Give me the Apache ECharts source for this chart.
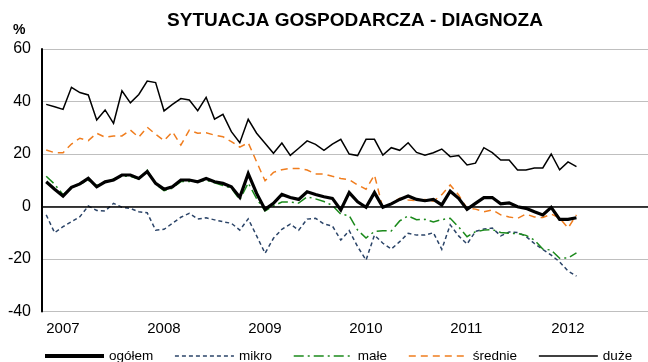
<!DOCTYPE html>
<html>
<head>
<meta charset="utf-8">
<script src="https://cdn.jsdelivr.net/npm/echarts@6/dist/echarts.min.js"></script>
<style>
  html, body { margin: 0; padding: 0; background: #fff; }
  #chart { width: 648px; height: 362px; }
</style>
</head>
<body>
<div id="chart"></div>
<script>
// Monthly survey balance (%), Jan 2007 – Apr 2012; axis runs to Dec 2012
const years = ['2007', '2008', '2009', '2010', '2011', '2012'];
const seriesNames = ['ogółem', 'mikro', 'małe', 'średnie', 'duże'];

const ogolem = [
  9.4, 6.6, 4.0, 7.3, 8.6, 10.7, 7.5, 9.4, 10.1, 12.0, 12.0, 10.7,
  13.3, 8.8, 6.6, 7.5, 10.1, 10.1, 9.4, 10.7, 9.4, 8.8, 7.5, 3.5,
  12.5, 5.0, -1.1, 1.2, 4.6, 3.4, 2.7, 5.6, 4.6, 3.7, 3.1, -1.3,
  5.3, 1.8, -0.3, 5.3, -0.3, 1.0, 2.7, 4.0, 2.7, 2.2, 2.7, 0.6,
  5.8, 3.1, -1.1, 1.2, 3.4, 3.4, 1.0, 1.4, -0.1, -0.7, -2.0, -3.2,
  -0.3, -4.9, -4.9, -4.3
];
const mikro = [
  -3.2, -10.0, -7.7, -5.8, -3.9, 0.2, -1.5, -1.7, 1.2, -0.3, -0.7, -2.0,
  -2.4, -9.0, -8.7, -6.4, -4.1, -2.6, -4.8, -4.3, -5.1, -5.8, -6.4, -9.0,
  -4.7, -11.2, -17.8, -12.1, -8.7, -6.7, -9.0, -4.8, -4.5, -6.7, -7.4, -12.8,
  -9.2, -15.3, -20.4, -10.9, -14.0, -16.2, -13.4, -10.2, -10.9, -10.9, -10.0, -16.3,
  -7.0, -11.2, -14.3, -9.5, -8.6, -8.2, -11.2, -9.7, -9.9, -11.4, -14.1, -16.4,
  -18.5, -21.1, -24.6, -26.5
];
const male = [
  11.5, 8.5, 4.5, 7.0, 8.5, 10.0, 8.0, 9.0, 10.5, 11.5, 11.5, 10.5,
  13.8, 8.5, 6.0, 7.0, 9.5, 9.5, 9.5, 10.0, 9.0, 8.0, 7.0, 2.5,
  9.0, 3.0, -1.7, 0.2, 1.7, 1.7, 1.3, 3.7, 2.9, 1.9, 0.4, -2.9,
  -3.5, -9.0, -12.0, -9.5, -9.2, -9.3, -5.5, -3.6, -5.0, -4.9, -5.9, -5.0,
  -4.5, -7.8, -11.5, -9.6, -9.0, -8.8, -9.9, -10.2, -10.3, -11.0, -12.8, -16.2,
  -16.6, -19.7, -19.6, -17.7
];
const srednie = [
  21.5, 20.5, 20.5, 23.8, 26.0, 25.1, 27.9, 26.4, 26.9, 26.9, 29.1, 26.4,
  30.2, 27.5, 25.1, 28.5, 23.4, 29.1, 27.9, 28.1, 27.2, 26.6, 24.7, 22.6,
  24.3, 17.0, 9.8, 13.0, 14.0, 14.5, 14.5, 13.9, 12.4, 12.4, 11.5, 10.7,
  10.2, 8.2, 6.6, 12.0, -0.7, 1.2, 3.1, 2.5, 2.2, 2.7, 2.0, 4.5,
  8.2, 4.4, -0.7, -1.0, -2.0, -1.3, -3.2, -4.0, -4.5, -2.9, -4.0, -4.2,
  -2.9, -4.4, -8.2, -3.2
];
const duze = [
  38.9, 38.0, 37.0, 45.4, 43.4, 42.5, 33.0, 36.8, 31.7, 44.1, 39.5, 42.7,
  47.8, 47.2, 36.4, 38.9, 41.1, 40.6, 36.5, 41.6, 33.3, 35.1, 28.5, 24.3,
  33.2, 27.9, 24.1, 20.3, 24.2, 19.5, 22.2, 25.0, 23.7, 21.4, 23.8, 25.6,
  20.0, 19.4, 25.6, 25.6, 19.6, 22.4, 21.4, 24.3, 20.6, 19.5, 20.5, 21.9,
  19.0, 19.4, 15.8, 16.5, 22.4, 20.5, 17.7, 17.7, 13.9, 13.9, 14.7, 14.7,
  20.0, 14.0, 17.0, 15.2
];

// month categories for the whole time axis
const months = [];
years.forEach(function (y) {
  for (let m = 1; m <= 12; m++) months.push(y + '-' + (m < 10 ? '0' + m : m));
});

const FONT = '"Liberation Sans", Arial, sans-serif';

const styles = {
  'ogółem':  { color: '#000000', width: 3.2, type: 'solid', z: 6, legendWidth: 4 },
  'mikro':   { color: '#2b4468', width: 1.5, type: [4, 3], z: 3, legendWidth: 1.3 },
  'małe':    { color: '#1b8a1b', width: 1.5, type: [10, 4, 2, 4], z: 4, legendWidth: 1.6 },
  'średnie': { color: '#f07d1e', width: 1.5, type: [7, 5], z: 3, legendWidth: 1.6 },
  'duże':    { color: '#000000', width: 1.5, type: 'solid', z: 5, legendWidth: 1.6 }
};

const chart = echarts.init(document.getElementById('chart'), null, { renderer: 'canvas' });

function lineSeries(name, data) {
  const s = styles[name];
  return {
    name: name,
    type: 'line',
    data: data,
    symbol: 'none',
    showSymbol: false,
    z: s.z,
    lineStyle: { color: s.color, width: s.width, type: s.type, cap: 'butt', join: 'miter' },
    itemStyle: { color: s.color },
    emphasis: { disabled: true }
  };
}

const ogolemSeries = lineSeries('ogółem', ogolem);
ogolemSeries.markLine = {
  silent: true,
  symbol: 'none',
  label: { show: false },
  lineStyle: { color: '#000000', width: 1.5, type: 'solid' },
  data: [{ yAxis: 0 }]
};

chart.setOption({
  animation: false,
  backgroundColor: '#ffffff',
  title: {
    text: 'SYTUACJA GOSPODARCZA - DIAGNOZA',
    left: 350,
    textAlign: 'center',
    top: 6,
    textStyle: { fontFamily: FONT, fontSize: 19, fontWeight: 'bold', color: '#000' }
  },
  graphic: [{
    type: 'text',
    left: 13,
    top: 23,
    style: { text: '%', font: 'bold 14px ' + FONT, fill: '#000' }
  }],
  legend: {
    top: 349,
    left: 43,
    padding: 0,
    itemWidth: 59,
    itemHeight: 14,
    itemGap: 21,
    data: seriesNames.map(function (n) {
      return { name: n, lineStyle: { width: styles[n].legendWidth } };
    }),
    itemStyle: { opacity: 0, borderWidth: 0 },
    textStyle: { fontFamily: FONT, fontSize: 13.5, color: '#000' }
  },
  grid: { left: 42, right: -3, top: 49, bottom: 50.5, containLabel: false },
  xAxis: {
    type: 'category',
    data: months,
    boundaryGap: true,
    axisLine: { show: false },
    axisTick: { show: false },
    splitLine: { show: false },
    axisLabel: {
      interval: function (i) { return i % 12 === 0; },
      formatter: function (v) { return v.slice(0, 4); },
      align: 'left',
      margin: 10,
      fontFamily: FONT,
      fontSize: 15,
      color: '#000'
    }
  },
  yAxis: {
    type: 'value',
    min: -40,
    max: 60,
    interval: 20,
    axisLine: { show: true, lineStyle: { color: '#000', width: 2 } },
    axisTick: { show: false },
    splitLine: { show: true, lineStyle: { color: '#bfbfbf', width: 1 } },
    axisLabel: { fontFamily: FONT, fontSize: 16, color: '#000', margin: 11 }
  },
  series: [
    ogolemSeries,
    lineSeries('mikro', mikro),
    lineSeries('małe', male),
    lineSeries('średnie', srednie),
    lineSeries('duże', duze)
  ]
});
</script>
</body>
</html>
